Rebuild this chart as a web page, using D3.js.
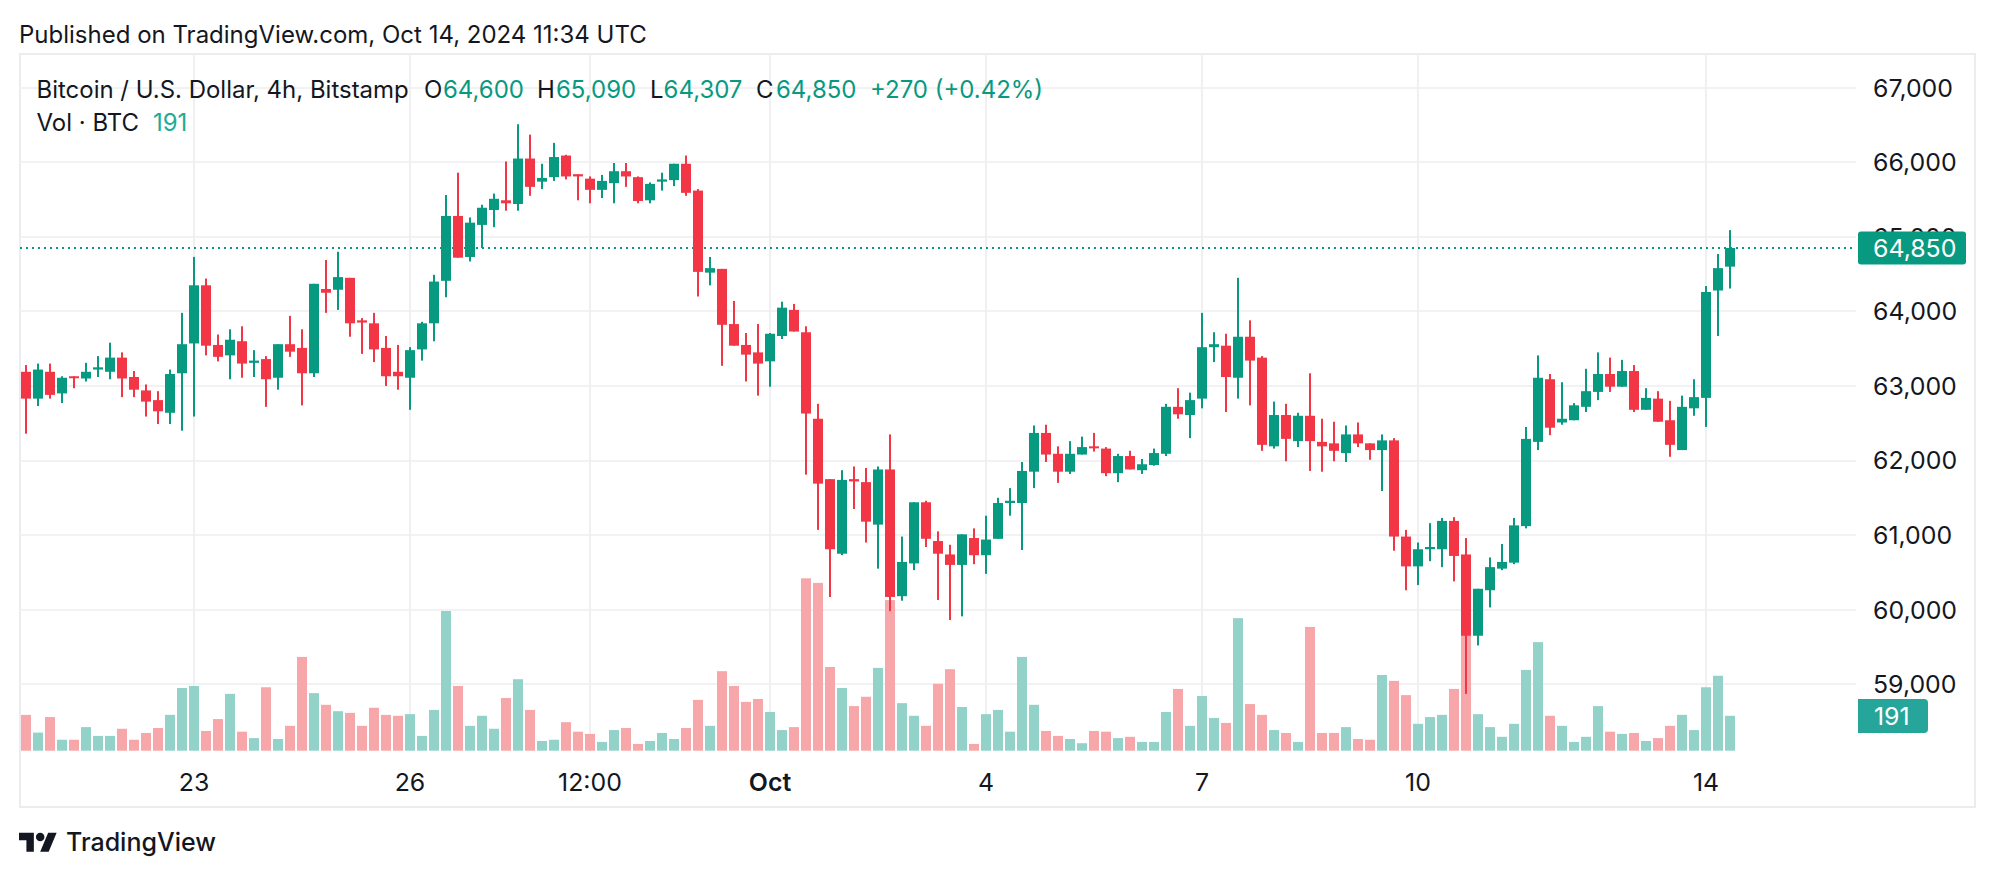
<!DOCTYPE html>
<html><head><meta charset="utf-8">
<script src="https://cdn.jsdelivr.net/npm/d3@7"></script>
<style>
html,body{margin:0;padding:0;background:#fff;}
svg{display:block;font-family:Inter,"Noto Sans",sans-serif;}
</style></head><body>
<svg id="chart" width="1996" height="878"></svg>
<script>
// ---- data (4h candles, BTC/USD Bitstamp) ----
const startTime = "2024-09-20T16:00:00Z";
const open = [63190,62830,63190,62900,63130,63100,63220,63190,63380,63120,
62940,62810,62640,63170,63570,64350,63550,63410,63600,63310,
63360,63110,63560,63510,63170,64300,64290,64450,63880,63840,
63510,63190,63110,63490,63840,64410,65280,64730,65160,65360,
65490,65440,66050,65740,65800,66090,65840,65780,65630,65720,
65880,65800,65490,65740,65760,65980,65620,64520,64570,63830,
63550,63450,63330,63670,64020,63720,62560,61750,60750,61750,
61710,61140,61880,60180,60620,61440,60920,60740,60600,60960,
60730,60950,61430,61430,61850,62370,62090,61850,62080,62190,
62160,61830,62060,61870,61940,62090,62720,62610,62830,63520,
63540,63110,63660,63380,62190,62610,62260,62600,62250,62230,
62100,62350,62230,62140,62270,60980,60580,60810,60810,61190,
60740,59650,60260,60550,60630,61120,62250,63090,62510,62540,
62720,62920,63160,62990,63200,62680,62830,62540,62140,62700,
62840,64280,64600];
const high = [63280,63300,63300,63130,63130,63310,63400,63580,63450,63200,
63020,62930,63220,63980,64730,64440,63690,63760,63800,63480,
63400,63560,63940,63760,64370,64690,64800,64450,63910,63980,
63670,63550,63520,63860,64490,65560,65860,65260,65430,65580,
66010,66510,66370,65980,66260,66100,65840,65810,65830,65990,
65990,65810,65730,65860,65980,66090,65640,64730,64570,64140,
63710,63830,63710,64130,64100,63800,62760,61750,61870,61920,
61900,61920,62350,60980,61440,61460,61050,60870,61010,61090,
61260,61500,61630,61980,62470,62480,62190,62260,62320,62370,
62180,62090,62130,62020,62160,62760,62970,62910,63980,63720,
63700,64450,63880,63400,62790,62760,62640,63170,62560,62520,
62470,62510,62230,62350,62300,61070,60900,61160,61230,61240,
60960,60280,60700,60880,61230,62450,63410,63160,63050,62770,
63230,63450,63380,63350,63280,62970,62930,62800,62870,63090,
64340,64770,65090];
const low = [62360,62730,62830,62770,62970,63060,63120,63090,62850,62850,
62590,62490,62490,62400,62590,63410,63330,63090,63110,63120,
62720,62950,63390,62740,63120,63980,64020,63660,63430,63320,
63000,62950,62680,63340,63600,64190,64720,64670,64850,65130,
65350,65350,65550,65640,65750,65770,65490,65450,65520,65450,
65670,65450,65450,65620,65680,65550,64200,64350,63270,63540,
63060,62870,62990,63630,63730,61810,61070,60170,60730,61350,
60900,60550,59980,60120,60530,60840,60130,59860,59910,60610,
60480,60950,61260,60800,61630,61980,61700,61820,62080,62120,
61790,61710,61880,61820,61930,62060,62560,62300,62700,63320,
62650,62830,62740,62130,62160,61990,62180,61860,61850,61990,
61980,62180,62010,61590,60790,60260,60330,60650,60570,60380,
58870,59520,60030,60530,60610,61090,62140,62340,62480,62540,
62650,62810,62920,62990,62650,62680,62520,62050,62140,62600,
62450,63670,64307];
const close = [62830,63220,62880,63110,63110,63190,63250,63380,63100,62950,
62790,62660,63160,63560,64350,63540,63390,63620,63300,63340,
63090,63560,63460,63170,64370,64250,64460,63840,63850,63490,
63130,63130,63480,63840,64400,65280,64720,65190,65390,65510,
65450,66050,65670,65790,66070,65810,65810,65630,65750,65880,
65810,65480,65710,65770,65980,65590,64530,64580,63820,63540,
63420,63300,63700,64050,63730,62630,61690,60810,61740,61720,
61180,61880,60170,60640,61440,60950,60750,60600,61010,60730,
60940,61430,61460,61860,62370,62080,61850,62090,62180,62170,
61830,62060,61880,61950,62100,62720,62620,62810,63520,63560,
63120,63660,63340,62210,62610,62290,62600,62260,62190,62130,
62350,62230,62140,62270,60980,60580,60810,60840,61190,60720,
59650,60280,60570,60640,61130,62290,63110,62440,62560,62740,
62930,63160,62990,63200,62680,62840,62520,62210,62720,62850,
64260,64580,64850];
const volume = [196,99,184,60,60,129,81,81,120,60,
97,124,196,343,354,108,173,311,104,69,
347,64,136,513,315,251,216,207,136,235,
196,191,200,81,223,764,354,136,191,120,
288,391,223,53,60,156,104,92,48,113,
124,37,53,97,64,124,278,136,435,354,
267,283,212,113,129,943,918,458,343,244,
295,453,824,260,191,136,366,446,239,37,
200,223,104,513,251,108,81,64,41,108,
104,69,76,48,48,212,338,136,299,179,
152,725,255,196,113,97,48,677,97,97,
129,64,60,414,382,304,147,184,196,338,
640,200,129,76,147,442,594,191,136,48,
76,244,104,92,97,53,69,136,196,113,
347,410,191];
const priceTicks = [59000,60000,61000,62000,63000,64000,65000,66000,67000];
const timeTickDates = ["2024-09-23T00:00:00Z","2024-09-26T00:00:00Z","2024-09-28T12:00:00Z","2024-10-01T00:00:00Z","2024-10-04T00:00:00Z","2024-10-07T00:00:00Z","2024-10-10T00:00:00Z","2024-10-14T00:00:00Z"];
const timeTickLabels = ["23","26","12:00","Oct","4","7","10","14"];
const headerText = "Published on TradingView.com, Oct 14, 2024 11:34 UTC";
const symbolTitle = "Bitcoin / U.S. Dollar, 4h, Bitstamp";

// ---- build ----
const n = open.length;
const t0 = new Date(startTime);
const times = open.map((_, i) => d3.utcHour.offset(t0, 4 * i));
const bars = open.map((o, i) => ({t: times[i], o, h: high[i], l: low[i], c: close[i], v: volume[i], up: close[i] >= o}));

const UP = "#089981", DOWN = "#f23645", TXT = "#131722";
const VUP = "#92d2c8", VDOWN = "#f7a6a9";
const plot = {l: 20, r: 1856, t: 54, b: 751};

const x = d3.scaleUtc().domain([times[0], times[n - 1]]).range([26, 1730]);
const y = d3.scaleLinear().domain([59000, 67000]).range([684.2, 87.7]);
const yv = d3.scaleLinear().domain([0, 1000]).range([750.7, 567.9]);

const svg = d3.select("#chart");
svg.append("rect").attr("width", 1996).attr("height", 878).attr("fill", "#fff");

const defs = svg.append("defs");
defs.append("clipPath").attr("id", "plotclip").append("rect")
  .attr("x", plot.l).attr("y", plot.t).attr("width", plot.r - plot.l).attr("height", plot.b - plot.t);

function fit(sel, target) {
  const w = sel.node().getComputedTextLength();
  const fs = parseFloat(sel.attr("font-size"));
  const nf = fs * target / w;
  sel.attr("font-size", nf);
  return nf;
}

// frame
svg.append("rect").attr("x", 20).attr("y", 54).attr("width", 1955).attr("height", 753)
  .attr("fill", "none").attr("stroke", "#ebebf0").attr("stroke-width", 2);

// grid
const grid = svg.append("g");
grid.selectAll(".hg").data(priceTicks).join("line")
  .attr("x1", plot.l).attr("x2", plot.r)
  .attr("y1", d => Math.round(y(d))).attr("y2", d => Math.round(y(d)))
  .attr("stroke", "#f2f2f4").attr("stroke-width", 2);
const tickTimes = timeTickDates.map(d => new Date(d));
grid.selectAll(".vg").data(tickTimes).join("line")
  .attr("x1", d => x(d)).attr("x2", d => x(d))
  .attr("y1", plot.t).attr("y2", plot.b)
  .attr("stroke", "#f0f0f2").attr("stroke-width", 2);

const pg = svg.append("g").attr("clip-path", "url(#plotclip)");

// volume
pg.append("g").selectAll("rect").data(bars).join("rect")
  .attr("x", d => x(d.t) - 5).attr("width", 10)
  .attr("y", d => yv(d.v)).attr("height", d => yv(0) - yv(d.v))
  .attr("fill", d => d.up ? VUP : VDOWN);

// last price line
const last = bars[n - 1];
pg.append("line").attr("x1", plot.l).attr("x2", plot.r)
  .attr("y1", y(last.c)).attr("y2", y(last.c))
  .attr("stroke", UP).attr("stroke-width", 2).attr("stroke-dasharray", "2,4");

// candles
const cg = pg.append("g");
cg.selectAll(".wick").data(bars).join("rect")
  .attr("x", d => x(d.t) - 1).attr("width", 2)
  .attr("y", d => y(d.h)).attr("height", d => Math.max(1, y(d.l) - y(d.h)))
  .attr("fill", d => d.up ? UP : DOWN);
cg.selectAll(".body").data(bars).join("rect")
  .attr("x", d => x(d.t) - 5).attr("width", 10)
  .attr("y", d => Math.min(y(d.o), y(d.c)))
  .attr("height", d => Math.max(2, Math.abs(y(d.o) - y(d.c))))
  .attr("fill", d => d.up ? UP : DOWN);

// price axis labels
const fmt = d3.format(",");
const pax = svg.append("g");
const pl = pax.selectAll("text").data(priceTicks).join("text")
  .attr("x", 1873).attr("y", d => y(d)).attr("dy", "0.36em")
  .attr("font-size", 22).attr("fill", TXT).text(d => fmt(d));
const axisFs = fit(pl.filter(d => d === 67000), 80);
pl.attr("font-size", axisFs);

// last price label
svg.append("rect").attr("x", 1858).attr("y", y(last.c) - 16.5).attr("width", 108).attr("height", 33)
  .attr("rx", 3).attr("fill", UP);
svg.append("text").attr("x", 1873).attr("y", y(last.c)).attr("dy", "0.36em")
  .attr("font-size", axisFs).attr("fill", "#fff").text(fmt(last.c));

// volume label
const vy = 699, vh = 34;
svg.append("path")
  .attr("d", `M1858,${vy} H1924 Q1928,${vy} 1928,${vy + 4} V${vy + vh - 4} Q1928,${vy + vh} 1924,${vy + vh} H1858 Z`)
  .attr("fill", "#26a69a");
svg.append("text").attr("x", 1874).attr("y", vy + vh / 2).attr("dy", "0.36em")
  .attr("font-size", axisFs).attr("fill", "#fff").text(last.v);

// time axis labels
svg.append("g").selectAll("text").data(tickTimes).join("text")
  .attr("x", d => x(d)).attr("y", 782).attr("dy", "0.36em")
  .attr("text-anchor", "middle").attr("font-size", axisFs)
  .attr("font-weight", (d, i) => timeTickLabels[i] === "Oct" ? 600 : 400)
  .attr("fill", TXT).text((d, i) => timeTickLabels[i]);

// header
const hdr = svg.append("text").attr("x", 19).attr("y", 43).attr("font-size", 20).attr("fill", TXT).text(headerText);
fit(hdr, 628);

// legend
const lg = svg.append("g");
const title = lg.append("text").attr("x", 36.5).attr("y", 98).attr("font-size", 20).attr("fill", TXT).text(symbolTitle);
const lfs = fit(title, 372.5);
const prev = bars[n - 2];
const chg = last.c - prev.c;
const pct = chg / prev.c * 100;
const items = [
  {x: 424, t: "O", c: TXT}, {x: 443, t: fmt(last.o), c: UP},
  {x: 537, t: "H", c: TXT}, {x: 556, t: fmt(last.h), c: UP},
  {x: 650, t: "L", c: TXT}, {x: 663.6, t: fmt(last.l), c: UP},
  {x: 756, t: "C", c: TXT}, {x: 776, t: fmt(last.c), c: UP},
  {x: 870, t: (chg >= 0 ? "+" : "") + fmt(chg) + " (" + (pct >= 0 ? "+" : "") + pct.toFixed(2) + "%)", c: UP}
];
lg.selectAll(".it").data(items).join("text")
  .attr("x", d => d.x).attr("y", 98).attr("font-size", lfs).attr("fill", d => d.c).text(d => d.t);
lg.append("text").attr("x", 36.5).attr("y", 131).attr("font-size", lfs).attr("fill", TXT).text("Vol \u00b7 BTC");
lg.append("text").attr("x", 153).attr("y", 131).attr("font-size", lfs).attr("fill", "#22ab94").text(last.v);

// footer logo
const logo = svg.append("g").attr("transform", "translate(19,828.5) scale(1.06)").attr("fill", TXT);
logo.append("path").attr("d", "M14 22H7V11H0V4h14v18zM28 22h-8l7.5-18h8L28 22z");
logo.append("circle").attr("cx", 20).attr("cy", 8).attr("r", 4);
const lt = svg.append("text").attr("x", 66).attr("y", 851).attr("font-size", 24).attr("font-weight", 500)
  .attr("fill", TXT).text("TradingView");
fit(lt, 150);
</script>
</body></html>
